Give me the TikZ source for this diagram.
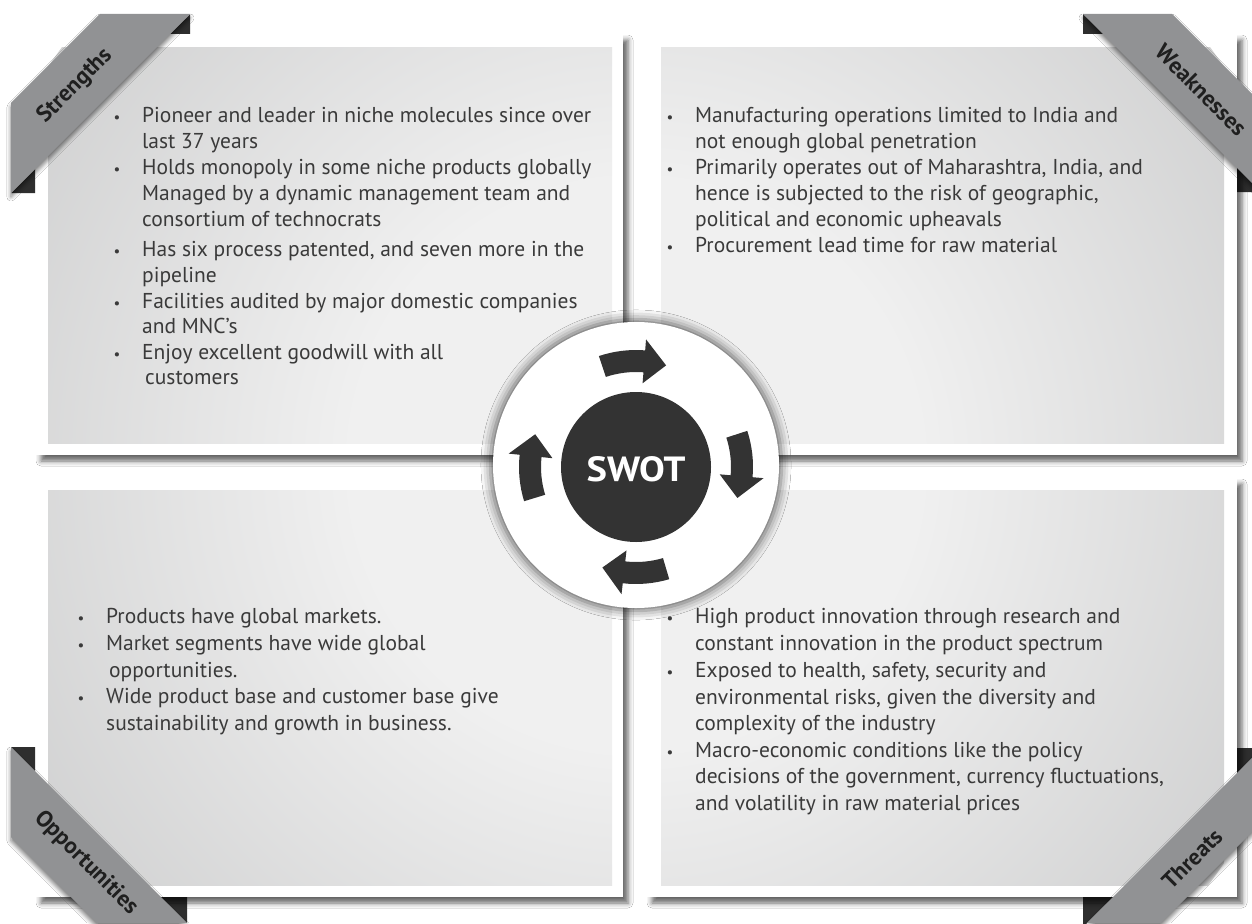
\documentclass[tikz,border=0pt]{standalone}
\usepackage{fontspec}
\setmainfont{PT Sans}
\usetikzlibrary{shadows.blur}
\definecolor{txtc}{HTML}{3A3A3A}
\definecolor{ribbonc}{HTML}{919294}
\definecolor{foldc}{HTML}{2E2E2E}
\definecolor{darkc}{HTML}{333333}
\definecolor{pA}{HTML}{F0F0F0}
\definecolor{pB}{HTML}{9C9D9E}
\pgfdeclareradialshading{panelshade}{\pgfpoint{0bp}{0bp}}{color(0bp)=(pA); color(10bp)=(pA); color(50bp)=(pB)}
\tikzset{
  txt/.style={font=\fontsize{21.5}{25}\selectfont, text=txtc, inner sep=0pt, anchor=base west},
  bul/.style={font=\fontsize{15}{18}\selectfont, text=txtc, inner sep=0pt, anchor=base},
  lab/.style={font=\fontsize{23}{26}\selectfont\bfseries, text=black!88, inner sep=0pt},
  framebox/.style={fill=white, blur shadow={shadow xshift=5pt, shadow yshift=-6pt, shadow blur radius=5pt, shadow opacity=60}},
  band/.style={fill=ribbonc, blur shadow={shadow xshift=0pt, shadow yshift=-4pt, shadow blur radius=4pt, shadow opacity=50}},
  foldtri/.style={fill=foldc},
}
\newcommand\panelfill[4]{%
  \begin{scope}\clip (#1,-#2) rectangle (#3,-#4);
  \shade[shading=panelshade] (636,-465) circle (710);\end{scope}}
\begin{document}
\begin{tikzpicture}[x=1pt,y=1pt]
\useasboundingbox (0,0) rectangle (1252,-923);
\fill[white] (0,0) rectangle (1252,-923);
% fold triangles
\fill[foldtri] (190,-14) -- (190,-34) -- (170,-34) -- cycle;
\fill[foldtri] (11,-193) -- (35,-193) -- (35,-169) -- cycle;
\fill[foldtri] (1083,-14) -- (1083,-34) -- (1103,-34) -- cycle;
\fill[foldtri] (1237,-168) -- (1237,-192) -- (1261,-192) -- cycle;
\fill[foldtri] (11,-747) -- (35,-747) -- (35,-771) -- cycle;
\fill[foldtri] (161,-897) -- (187,-897) -- (187,-923) -- cycle;
\fill[foldtri] (1262,-748) -- (1237,-748) -- (1237,-773) -- cycle;
\fill[foldtri] (1083,-897) -- (1113,-897) -- (1083,-927) -- cycle;
% panel frames
\fill[framebox] (36,-34) rectangle (623,-455);
\fill[framebox] (647,-34) rectangle (1237,-455);
\fill[framebox] (36,-478) rectangle (623,-897);
\fill[framebox] (647,-478) rectangle (1237,-897);
% panel gradients
\panelfill{48}{48}{612}{443}
\panelfill{661}{48}{1224}{443}
\panelfill{48}{490}{612}{885}
\panelfill{661}{490}{1224}{885}
% ribbons
\fill[band] (100,-14) -- (190,-14) -- (11,-193) -- (11,-103) -- cycle;
\fill[band] (1083,-14) -- (1172,-14) -- (1262,-104) -- (1262,-193) -- cycle;
\fill[band] (11,-747) -- (11,-837) -- (97,-923) -- (187,-923) -- cycle;
\fill[band] (1262,-748) -- (1262,-822) -- (1161,-923) -- (1087,-923) -- cycle;
\node[lab, rotate=45] (lS) at (75,-86) {Strengths};
\node[lab, rotate=-45] (lW) at (1201,-90) {Weaknesses};
\node[lab, rotate=-45] (lO) at (86,-863) {Opportunities};
\node[lab, rotate=45] (lT) at (1192,-859) {Threats};
% Strengths text
\node[bul] (sb1) at (117,-123) {•};
\node[txt] (s1) at (142,-123) {Pioneer and leader in niche molecules since over};
\node[txt] (s2) at (142,-149) {last 37 years};
\node[bul] (sb2) at (117,-174) {•};
\node[txt] (s3) at (142,-174) {Holds monopoly in some niche products globally};
\node[txt] (s4) at (142,-200) {Managed by a dynamic management team and};
\node[txt] (s5) at (142,-226) {consortium of technocrats};
\node[bul] (sb3) at (117,-256) {•};
\node[txt] (s6) at (142,-256) {Has six process patented, and seven more in the};
\node[txt] (s7) at (142,-282) {pipeline};
\node[bul] (sb4) at (117,-308) {•};
\node[txt] (s8) at (142,-308) {Facilities audited by major domestic companies};
\node[txt] (s9) at (142,-333) {and MNC’s};
\node[bul] (sb5) at (117,-359) {•};
\node[txt] (s10) at (142,-359) {Enjoy excellent goodwill with all};
\node[txt] (s11) at (145,-384) {customers};
% Weaknesses text
\node[bul] (wb1) at (670,-123) {•};
\node[txt] (w1) at (695,-123) {Manufacturing operations limited to India and};
\node[txt] (w2) at (695,-149) {not enough global penetration};
\node[bul] (wb2) at (670,-174) {•};
\node[txt] (w3) at (695,-174) {Primarily operates out of Maharashtra, India, and};
\node[txt] (w4) at (695,-200) {hence is subjected to the risk of geographic,};
\node[txt] (w5) at (695,-226) {political and economic upheavals};
\node[bul] (wb3) at (670,-252) {•};
\node[txt] (w6) at (695,-252) {Procurement lead time for raw material};
% Opportunities text
\node[bul] (ob1) at (81,-623) {•};
\node[txt] (o1) at (106,-623) {Products have global markets.};
\node[bul] (ob2) at (81,-650) {•};
\node[txt] (o2) at (106,-650) {Market segments have wide global};
\node[txt] (o3) at (109,-677) {opportunities.};
\node[bul] (ob3) at (81,-703) {•};
\node[txt] (o4) at (106,-703) {Wide product base and customer base give};
\node[txt] (o5) at (106,-730) {sustainability and growth in business.};
% Threats text
\node[bul] (tb1) at (670,-623) {•};
\node[txt] (t1) at (695,-623) {High product innovation through research and};
\node[txt] (t2) at (695,-650) {constant innovation in the product spectrum};
\node[bul] (tb2) at (670,-677) {•};
\node[txt] (t3) at (695,-677) {Exposed to health, safety, security and};
\node[txt] (t4) at (695,-704) {environmental risks, given the diversity and};
\node[txt] (t5) at (695,-730) {complexity of the industry};
\node[bul] (tb3) at (670,-757) {•};
\node[txt] (t6) at (695,-757) {Macro-economic conditions like the policy};
\node[txt] (t7) at (695,-783) {decisions of the government, currency fluctuations,};
\node[txt] (t8) at (695,-810) {and volatility in raw material prices};
% centre
\fill[white, blur shadow={shadow xshift=0pt, shadow yshift=0pt, shadow blur radius=9pt, shadow opacity=60, shadow scale=1.02}] (636,-465) circle (143);
\fill[darkc] (636,-467) circle (75);
\node[font=\fontsize{35}{38}\selectfont\bfseries, text=white, inner sep=0pt] (swot) at (636,-469) {\scalebox{1.1}[1]{SWOT}};
\begin{scope}[shift={(636,-467)}]
\foreach \c in {91.5,1,-90.5,180}{
  \pgfmathsetmacro\ta{\c+17}\pgfmathsetmacro\hb{\c-6}\pgfmathsetmacro\tp{\c-18}
  \fill[darkc] (\ta:117) arc[start angle=\ta, end angle=\hb, radius=117] -- (\hb:128) -- (\tp:106) -- (\hb:84) -- (\hb:95) arc[start angle=\hb, end angle=\ta, radius=95] -- cycle;
}
\end{scope}
\end{tikzpicture}
\end{document}
